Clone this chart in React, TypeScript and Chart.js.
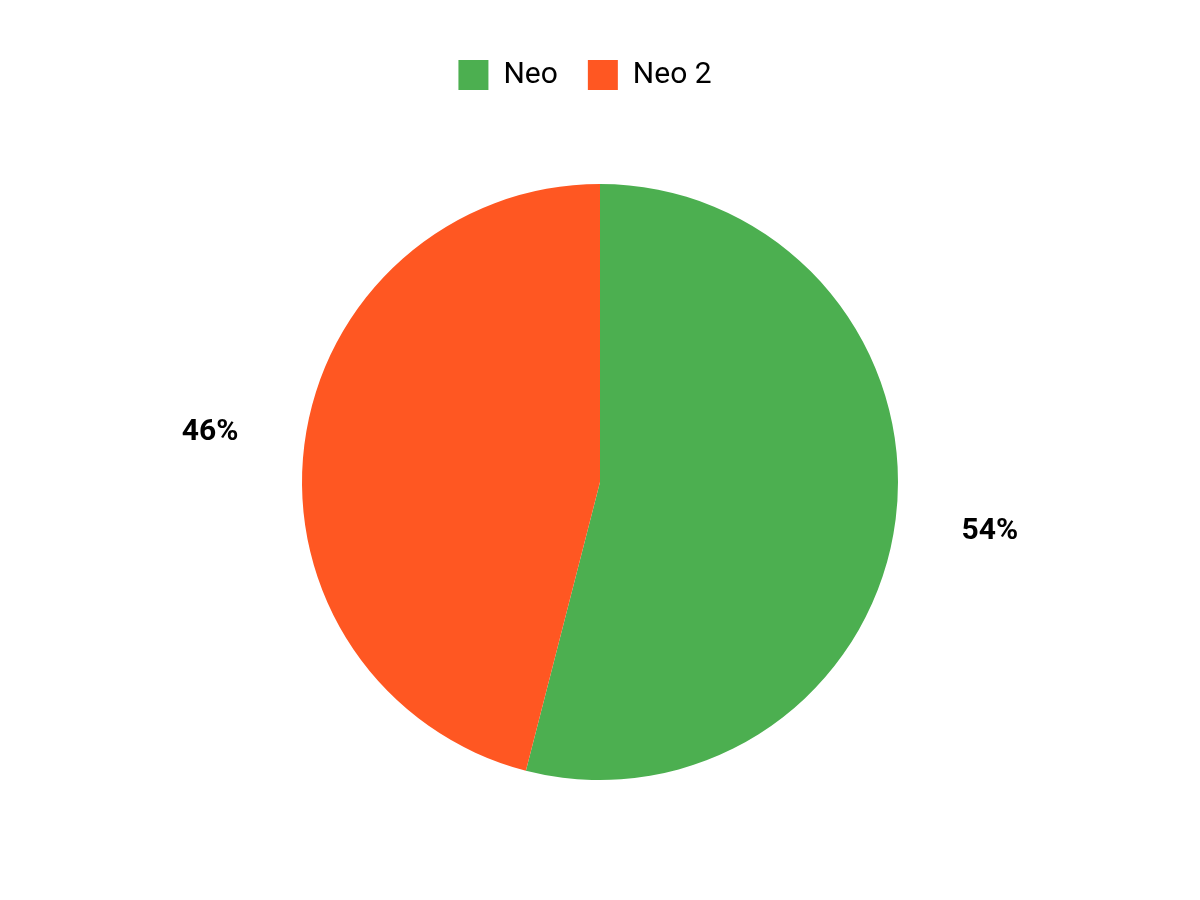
import { useEffect, useRef } from 'react';
import { Chart, registerables, Plugin } from 'chart.js';

Chart.register(...registerables);

const labels = ['Neo', 'Neo 2'];
const values = [54, 46];
const colors = ['#4CAF50', '#FF5722'];

// percentage labels outside each slice
const outsideLabels: Plugin<'pie'> = {
  id: 'outsideLabels',
  afterLayout(chart) {
    // legend row sits a bit left of centre in the reference
    if (chart.legend) {
      chart.legend.left -= 15;
      chart.legend.right -= 15;
    }
  },
  afterDatasetsDraw(chart) {
    const ctx = chart.ctx;
    const meta = chart.getDatasetMeta(0);
    const data = chart.data.datasets[0].data as number[];
    const total = data.reduce((a, b) => a + b, 0);
    ctx.save();
    ctx.font = 'bold 30px Roboto';
    ctx.fillStyle = '#000';
    ctx.textAlign = 'center';
    ctx.textBaseline = 'middle';
    meta.data.forEach((arc: any, i) => {
      const { x, y, startAngle, endAngle, outerRadius } = arc.getProps(
        ['x', 'y', 'startAngle', 'endAngle', 'outerRadius'],
        true
      );
      const mid = (startAngle + endAngle) / 2;
      const r = outerRadius + 95;
      const pct = Math.round((data[i] / total) * 100);
      ctx.fillText(`${pct}%`, x + Math.cos(mid) * r, y + Math.sin(mid) * r);
    });
    ctx.restore();
  },
};

export default function App() {
  const canvasRef = useRef<HTMLCanvasElement>(null);

  useEffect(() => {
    document.body.style.margin = '0';
    if (!canvasRef.current) return;
    const chart = new Chart(canvasRef.current, {
      type: 'pie',
      data: {
        labels,
        datasets: [
          {
            data: values,
            backgroundColor: colors,
            borderWidth: 0,
          },
        ],
      },
      options: {
        responsive: false,
        animation: false,
        radius: 298,
        layout: { padding: { top: 30, bottom: 36 } },
        plugins: {
          legend: {
            position: 'top',
            labels: {
              boxWidth: 30,
              boxHeight: 30,
              padding: 30,
              color: '#000',
              font: { family: 'Roboto', size: 30 },
            },
          },
          tooltip: { enabled: false },
        },
      },
      plugins: [outsideLabels],
    });
    return () => chart.destroy();
  }, []);

  return (
    <div style={{ width: 1200, height: 900, background: '#fff' }}>
      <canvas ref={canvasRef} width={1200} height={900} />
    </div>
  );
}
